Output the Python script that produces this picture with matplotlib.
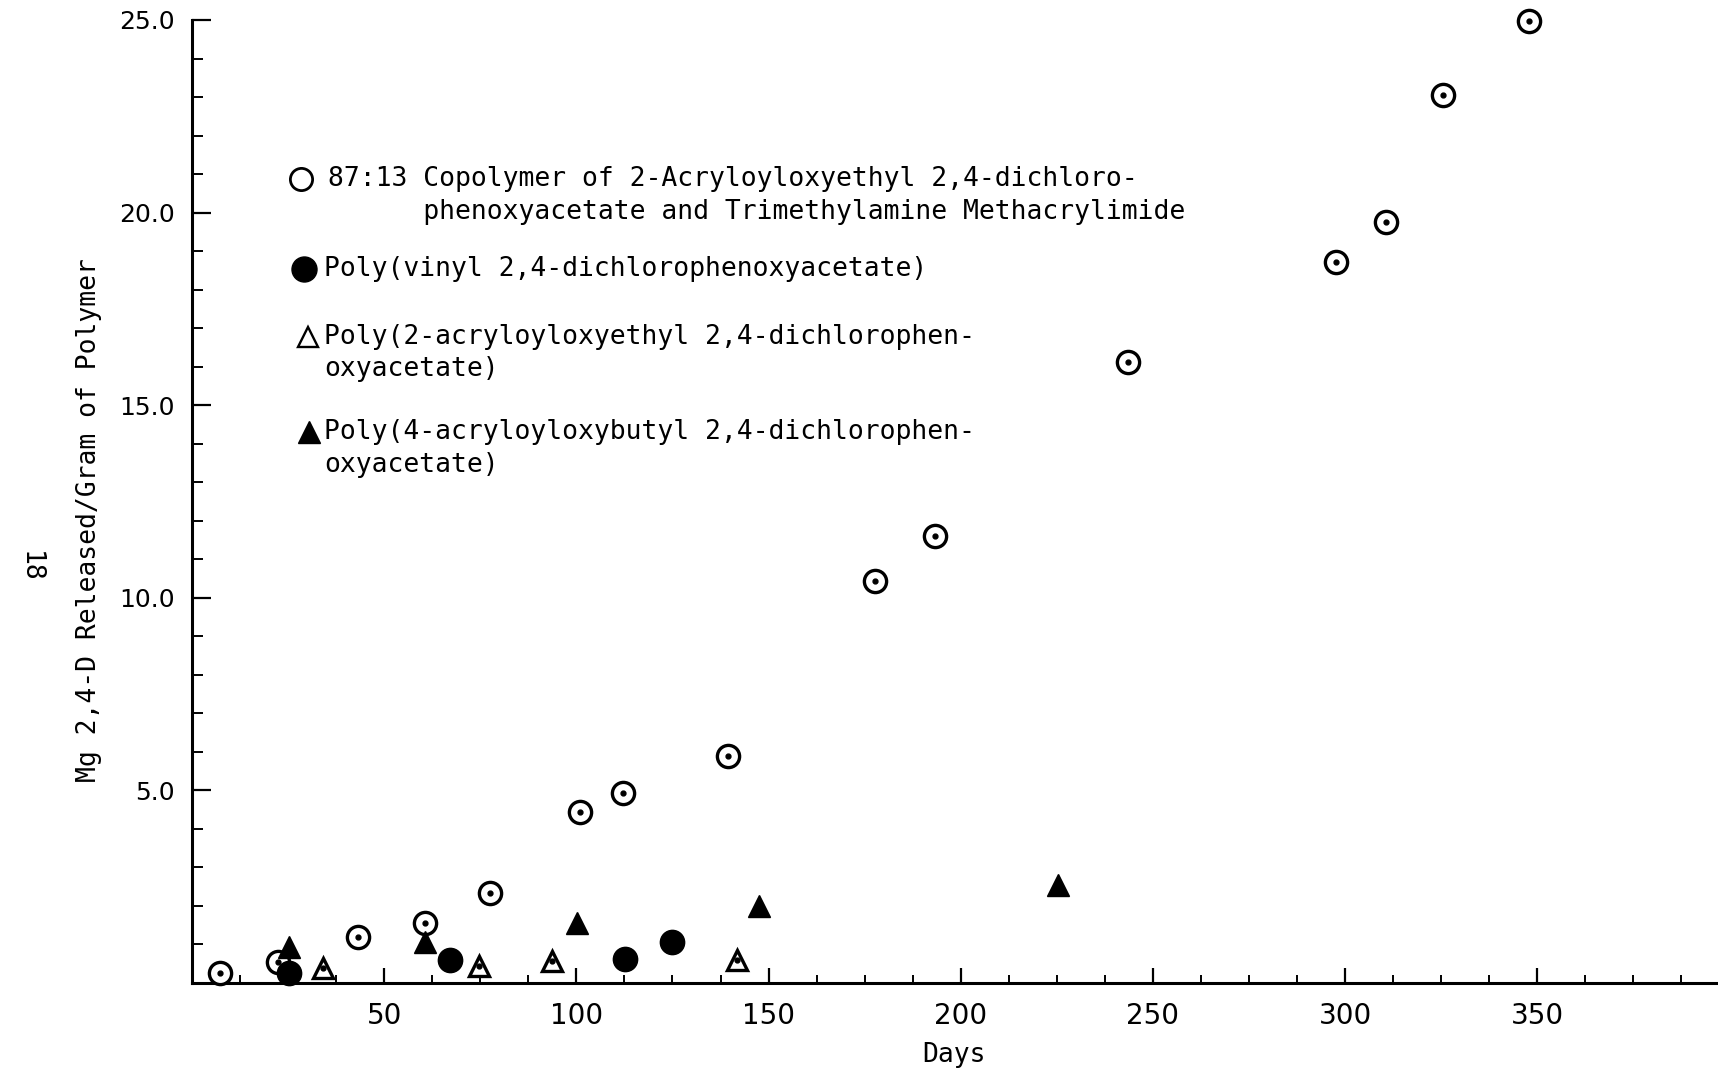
import numpy as np
import matplotlib
matplotlib.use("Agg")
import matplotlib.pyplot as plt

# ---------------- data ----------------
copoly_days = [7.3, 22.4, 43.2, 60.6, 77.4, 101.0, 112.2, 139.5, 177.7, 193.3, 243.5, 297.6, 310.5, 325.5, 347.9]
copoly_mg = [0.26, 0.55, 1.19, 1.56, 2.34, 4.44, 4.92, 5.89, 10.44, 11.61, 16.13, 18.72, 19.75, 23.04, 24.97]

vinyl_days = [25.2, 67.1, 112.7, 125.0]
vinyl_mg = [0.26, 0.60, 0.63, 1.06]

ethyl_days = [34.1, 74.6, 93.6, 141.8]
ethyl_mg = [0.39, 0.44, 0.57, 0.60]

butyl_days = [25.2, 60.6, 100.2, 147.5, 225.3]
butyl_mg = [0.93, 1.06, 1.57, 2.00, 2.54]

x_major = [50, 100, 150, 200, 250, 300, 350]
x_labels = ["50", "100", "150", "200", "250", "300", "350"]
y_major = [5, 10, 15, 20, 25]
y_labels = ["5.0", "10.0", "15.0", "20.0", "25.0"]

legend_lines = [
    ["87:13 Copolymer of 2-Acryloyloxyethyl 2,4-dichloro-",
     "      phenoxyacetate and Trimethylamine Methacrylimide"],
    ["Poly(vinyl 2,4-dichlorophenoxyacetate)"],
    ["Poly(2-acryloyloxyethyl 2,4-dichlorophen-",
     "oxyacetate)"],
    ["Poly(4-acryloyloxybutyl 2,4-dichlorophen-",
     "oxyacetate)"],
]

# ---------------- figure ----------------
W, H = 1718, 1073
fig = plt.figure(figsize=(W / 100, H / 100), dpi=100)
ax = fig.add_axes([192 / W, 1 - 983 / H, 1 - 192 / W, (983 - 20) / H])


def fp(x, y):
    return x / W, 1 - y / H


MONO = "DejaVu Sans Mono"
TICKFONT = "DejaVu Sans"

# data marks
ax.plot(copoly_days, copoly_mg, linestyle="none", marker="o", ms=16, mfc="white",
        mec="black", mew=2.4, zorder=3, clip_on=False)
ax.plot(copoly_days, copoly_mg, linestyle="none", marker="o", ms=3.5, color="black",
        zorder=3.1, clip_on=False)
ax.plot(vinyl_days, vinyl_mg, linestyle="none", marker="o", ms=17.5, color="black",
        zorder=4, clip_on=False)
ax.plot(ethyl_days, ethyl_mg, linestyle="none", marker="^", ms=15, mfc="white",
        mec="black", mew=2.4, zorder=4, clip_on=False)
ax.plot(ethyl_days, ethyl_mg, linestyle="none", marker="o", ms=3.5, color="black",
        zorder=4.1, clip_on=False)
ax.plot(butyl_days, butyl_mg, linestyle="none", marker="^", ms=15.5, color="black",
        zorder=5, clip_on=False)

# axes
ax.set_xlim(0, 397)
ax.set_ylim(0, 25)
for s in ["top", "right"]:
    ax.spines[s].set_visible(False)
for s in ["left", "bottom"]:
    ax.spines[s].set_linewidth(2.2)

ax.set_xticks(x_major)
ax.set_xticklabels(x_labels, fontfamily=TICKFONT, fontsize=20)
ax.set_xticks(np.arange(12.5, 397, 12.5), minor=True)
ax.set_yticks(y_major)
ax.set_yticklabels(y_labels, fontfamily=TICKFONT, fontsize=18)
ax.set_yticks(np.arange(1, 25, 1), minor=True)

ax.tick_params(axis="x", which="major", direction="in", length=11, width=1.6, pad=14)
ax.tick_params(axis="x", which="minor", direction="in", length=5.5, width=1.4)
ax.tick_params(axis="y", which="major", direction="in", length=14, width=1.6, pad=12.5)
ax.tick_params(axis="y", which="minor", direction="in", length=8, width=1.4)

# axis titles
fig.text(*fp(89, 520), "Mg 2,4-D Released/Gram of Polymer", rotation=90,
         ha="center", va="center", fontfamily=MONO, fontsize=19)
fig.text(*fp(954, 1055), "Days", ha="center", va="center", fontfamily=MONO, fontsize=19)
fig.text(*fp(30, 567), "18", rotation=-90, ha="center", va="center",
         fontfamily=MONO, fontsize=19)

# legend (drawn manually to match original layout)
key_pos = [(300.7, 179), (303.5, 268.5), (307.5, 336.5), (308.7, 432)]
key_style = [
    dict(marker="o", ms=16, mfc="white", mec="black", mew=2.0),
    dict(marker="o", ms=18, color="black"),
    dict(marker="^", ms=15, mfc="white", mec="black", mew=1.7),
    dict(marker="^", ms=16, color="black"),
]
text_pos = [(327.5, [179, 212]), (324.5, [268.5]), (324.5, [336.5, 369]),
            (324.5, [432, 465])]

for (kx, ky), st, (tx, tys), lines in zip(key_pos, key_style, text_pos, legend_lines):
    ax.plot([kx / W], [1 - ky / H], linestyle="none", transform=fig.transFigure,
            clip_on=False, **st)
    for ty, line in zip(tys, lines):
        fig.text(*fp(tx, ty), line, ha="left", va="center", fontfamily=MONO, fontsize=19)

fig.savefig("out.png", dpi=100)
